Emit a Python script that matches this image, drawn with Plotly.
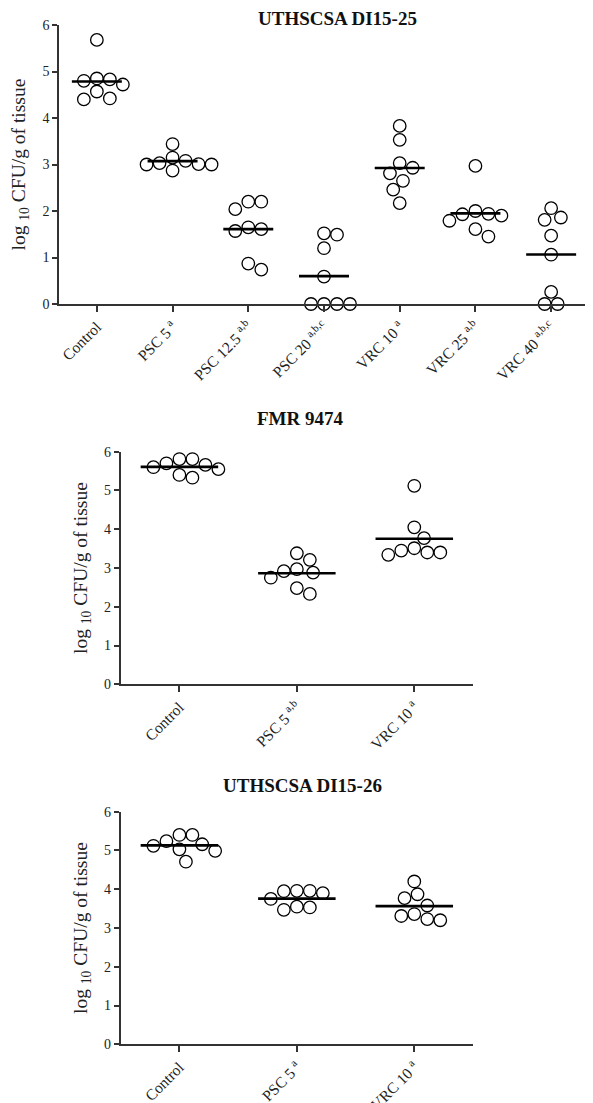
import numpy as np
import plotly.graph_objects as go

# ---------------- data ----------------
top_title = "UTHSCSA DI15-25"
top_ticklabels = ["Control", "PSC 5 <sup>a</sup>", "PSC 12.5 <sup>a,b</sup>", "PSC 20 <sup>a,b,c</sup>",
                  "VRC 10 <sup>a</sup>", "VRC 25 <sup>a,b</sup>", "VRC 40 <sup>a,b,c</sup>"]
top_control = [5.68, 4.83, 4.80, 4.85, 4.72, 4.57, 4.40, 4.42]
top_psc5 = [3.44, 3.15, 3.03, 3.00, 2.87, 3.00, 3.01, 3.08]
top_psc125 = [2.20, 2.20, 2.04, 1.61, 1.57, 1.65, 0.74, 0.87]
top_psc20 = [1.52, 1.49, 1.20, 0.59, 0.0, 0.0, 0.0, 0.0]
top_vrc10 = [3.83, 3.53, 3.03, 2.93, 2.81, 2.65, 2.46, 2.17]
top_vrc25 = [2.97, 2.00, 1.93, 1.90, 1.94, 1.79, 1.61, 1.45]
top_vrc40 = [2.06, 1.81, 1.86, 1.47, 1.06, 0.26, 0.0, 0.0]

mid_title = "FMR 9474"
mid_ticklabels = ["Control", "PSC 5 <sup>a,b</sup>", "VRC 10 <sup>a</sup>"]
mid_control = [5.66, 5.55, 5.81, 5.33, 5.40, 5.81, 5.60, 5.70]
mid_psc5 = [3.21, 3.38, 2.75, 2.92, 2.88, 2.97, 2.33, 2.48]
mid_vrc10 = [5.12, 4.05, 3.77, 3.51, 3.40, 3.34, 3.40, 3.45]

bot_title = "UTHSCSA DI15-26"
bot_ticklabels = ["Control", "PSC 5 <sup>a</sup>", "VRC 10 <sup>a</sup>"]
bot_control = [5.16, 5.40, 5.24, 5.40, 5.12, 5.03, 4.99, 4.71]
bot_psc5 = [3.90, 3.96, 3.95, 3.96, 3.75, 3.55, 3.47, 3.53]
bot_vrc10 = [4.20, 3.87, 3.77, 3.58, 3.36, 3.31, 3.20, 3.23]

y_ticks = [0, 1, 2, 3, 4, 5, 6]

# ---------------- layout helpers ----------------
PAGE_OFF = 8                      # default body margin of the html page
W, H = 593 - PAGE_OFF, 1103 - PAGE_OFF
FONT = "Liberation Serif, Times New Roman, serif"
AXC = "#333333"
MARK_D = 12.5


def px_x(p):
    return (p - PAGE_OFF) / W


def px_y(p):
    return 1 - (p - PAGE_OFF) / H


def swarm(values, px_per_unit, px_per_cat, diam=MARK_D + 0.5):
    """Simple beeswarm: returns horizontal offsets (category units)."""
    order = np.argsort(-np.asarray(values), kind="stable")
    placed = []
    offs = np.zeros(len(values))
    step = diam / 4.0
    cands = [0.0]
    for k in range(1, 40):
        cands += [k * step, -k * step]
    for idx in order:
        ypx = values[idx] * px_per_unit
        for c in cands:
            ok = True
            for (px, py) in placed:
                if (px - c) ** 2 + (py - ypx) ** 2 < diam ** 2:
                    ok = False
                    break
            if ok:
                placed.append((c, ypx))
                offs[idx] = c / px_per_cat
                break
    return offs


panels = [
    dict(title=top_title, ticks=top_ticklabels,
         groups=[top_control, top_psc5, top_psc125, top_psc20, top_vrc10, top_vrc25, top_vrc40],
         xpx=(59, 589), ypx=(25, 304), title_pos=(337, 18), ytitle_x=20),
    dict(title=mid_title, ticks=mid_ticklabels,
         groups=[mid_control, mid_psc5, mid_vrc10],
         xpx=(120.7, 473), ypx=(451.7, 684.3), title_pos=(300, 418), ytitle_x=82),
    dict(title=bot_title, ticks=bot_ticklabels,
         groups=[bot_control, bot_psc5, bot_vrc10],
         xpx=(120.7, 473), ypx=(811.7, 1044.3), title_pos=(302, 785), ytitle_x=82),
]

fig = go.Figure()
annotations = []
layout_axes = {}

for p_i, p in enumerate(panels):
    suffix = "" if p_i == 0 else str(p_i + 1)
    xa, ya = "x" + suffix, "y" + suffix
    n = len(p["groups"])
    x0, x1 = p["xpx"]
    y0, y1 = p["ypx"]
    px_per_cat = (x1 - x0) / n
    px_per_unit = (y1 - y0) / 6.0
    for g_i, vals in enumerate(p["groups"]):
        m = float(np.mean(vals))
        fig.add_trace(go.Scatter(
            x=[g_i - 0.33, g_i + 0.33], y=[m, m], mode="lines",
            line=dict(color="black", width=2.6), xaxis=xa, yaxis=ya,
            showlegend=False, hoverinfo="skip", cliponaxis=False))
        offs = swarm(vals, px_per_unit, px_per_cat)
        fig.add_trace(go.Scatter(
            x=g_i + offs, y=vals, mode="markers",
            marker=dict(symbol="circle-open", size=MARK_D, color="black",
                        line=dict(width=1.3, color="black")),
            xaxis=xa, yaxis=ya, showlegend=False, cliponaxis=False))

    layout_axes["xaxis" + suffix] = dict(
        domain=[px_x(x0), px_x(x1)], anchor=ya, range=[-0.5, n - 0.5], automargin=False,
        tickmode="array", tickvals=list(range(n)), ticktext=p["ticks"],
        tickangle=-45, ticks="outside", ticklen=6, tickwidth=1.5, tickcolor=AXC,
        showline=True, linecolor=AXC, linewidth=1.6, showgrid=False, zeroline=False,
        tickfont=dict(family=FONT, size=15.5, color="#222222"), fixedrange=True)
    layout_axes["yaxis" + suffix] = dict(
        domain=[px_y(y1), px_y(y0)], anchor=xa, range=[0, 6], automargin=False,
        tickmode="array", tickvals=y_ticks, ticktext=[str(t) for t in y_ticks],
        ticks="outside", ticklen=5, tickwidth=1.5, tickcolor=AXC,
        showline=True, linecolor=AXC, linewidth=1.6, showgrid=False, zeroline=False,
        tickfont=dict(family=FONT, size=14, color="#222222"), fixedrange=True)

    tx, ty = p["title_pos"]
    annotations.append(dict(
        text="<b>" + p["title"] + "</b>", x=px_x(tx), y=px_y(ty), xref="paper", yref="paper",
        xanchor="center", yanchor="middle", showarrow=False,
        font=dict(family=FONT, size=19, color="#111111")))
    annotations.append(dict(
        text="log <sub>10</sub> CFU/g of tissue", x=px_x(p["ytitle_x"]), y=px_y((y0 + y1) / 2),
        xref="paper", yref="paper", xanchor="center", yanchor="middle", textangle=-90,
        showarrow=False, font=dict(family=FONT, size=19.5, color="#222222")))

fig.update_layout(
    width=W, height=H, margin=dict(l=0, r=0, t=0, b=0, pad=0),
    paper_bgcolor="white", plot_bgcolor="white",
    annotations=annotations, **layout_axes)

fig.write_html("out.html")
